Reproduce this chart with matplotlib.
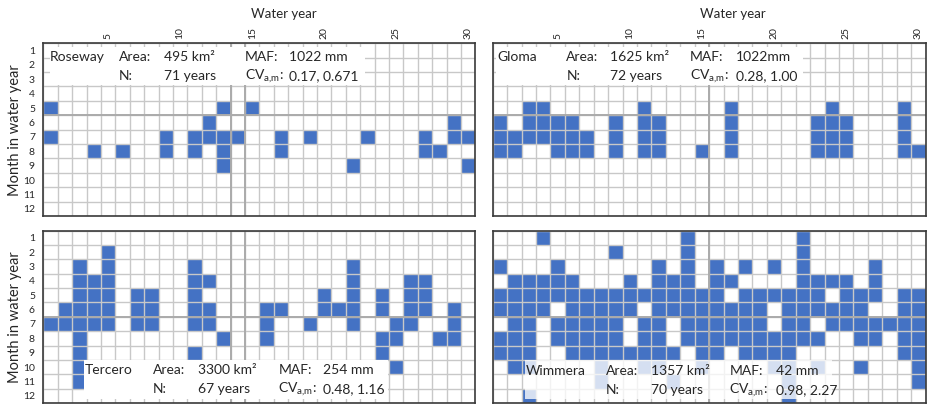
import numpy as np
import matplotlib
matplotlib.use("Agg")
import matplotlib.pyplot as plt
from matplotlib.colors import ListedColormap
from matplotlib.patches import Rectangle

plt.rcParams['font.family'] = ['Lato', 'DejaVu Sans']
plt.rcParams['mathtext.fontset'] = 'custom'
plt.rcParams['mathtext.rm'] = 'Lato'

# Months (row) in which each water year (column) is flagged
years = list(range(1, 31))
months = list(range(1, 13))

roseway = {
    5: [1, 13, 15],
    6: [12, 29],
    7: [1, 9, 11, 12, 13, 14, 17, 19, 23, 27, 29, 30],
    8: [4, 6, 9, 11, 13, 17, 27, 28],
    9: [13, 22, 30],
}

gloma = {
    5: [3, 4, 11, 17, 24, 29],
    6: [1, 3, 4, 5, 6, 9, 11, 12, 17, 23, 24, 25, 29],
    7: [1, 2, 3, 4, 5, 6, 7, 9, 11, 12, 17, 23, 24, 25, 29],
    8: [1, 2, 5, 6, 7, 9, 11, 12, 15, 17, 23, 24, 25, 29, 30],
}

tercero = {
    2: [5],
    3: [3, 5, 11, 22],
    4: [3, 4, 5, 11, 12, 22, 26, 27],
    5: [3, 4, 5, 7, 8, 11, 20, 22, 24, 26, 27],
    6: [2, 3, 4, 5, 7, 8, 11, 12, 16, 17, 20, 21, 22, 24, 26, 27, 29],
    7: [1, 2, 3, 4, 5, 7, 8, 11, 12, 16, 19, 22, 25, 26, 29],
    8: [3, 13, 16, 24, 25, 28, 29],
    9: [3, 11, 24],
    10: [3, 25],
    11: [3],
}

wimmera = {
    1: [4, 14, 22],
    2: [9, 14, 22],
    3: [1, 5, 12, 14, 16, 18, 20, 22, 27],
    4: [2, 3, 4, 5, 6, 10, 12, 13, 14, 16, 17, 22, 23, 24, 25, 27],
    5: [1, 2, 3, 4, 5, 6, 7, 8, 9, 10, 11, 12, 13, 14, 15, 16, 18, 19, 20,
        21, 22, 23, 25, 26, 27, 29, 30],
    6: [1, 2, 3, 4, 6, 7, 8, 9, 10, 12, 13, 14, 15, 16, 17, 18, 19, 21, 22,
        23, 24, 25, 26, 29, 30],
    7: [2, 3, 5, 6, 7, 8, 9, 11, 12, 14, 15, 16, 17, 18, 19, 21, 22, 24, 25,
        26, 27, 28, 29, 30],
    8: [1, 2, 3, 5, 6, 7, 8, 9, 11, 12, 14, 15, 16, 17, 18, 19, 20, 21, 22,
        23, 26, 27, 29, 30],
    9: [1, 2, 3, 6, 7, 8, 9, 10, 11, 12, 13, 15, 16, 18, 19, 20, 21, 29, 30],
    10: [2, 3, 8, 11, 12, 15, 20, 21, 23, 26, 30],
    11: [8, 13, 21, 30],
    12: [3, 21],
}

# Catchment descriptors
names = ["Roseway", "Gloma", "Tercero", "Wimmera"]
areas = ["495", "1625", "3300", "1357"]
mafs = ["1022 mm", "1022mm", "254 mm", "42 mm"]
record_years = ["71", "72", "67", "70"]
cvs = ["0.17, 0.671", "0.28, 1.00", "0.48, 1.16", "0.98, 2.27"]

# Reference (centroid) lines: vertical year positions and horizontal month position
centre_years = [[13.5, 14.5], [15.5], [13.5, 14.5], [15.5]]
centre_months = [5.5, 5.5, 6.5, 6.5]

BLUE = "#4472C4"
GRID = "#c8c8c8"
DARK_GRID = "#ababab"

W, H = 927, 404
fig = plt.figure(figsize=(W / 100, H / 100), dpi=100)


def px_axes(x0, y0, x1, y1):
    return fig.add_axes([x0 / W, 1 - y1 / H, (x1 - x0) / W, (y1 - y0) / H])


boxes = [
    (43.3, 43.3, 475.5, 216.0),
    (492.7, 43.3, 925.5, 216.0),
    (43.3, 230.5, 475.5, 403.0),
    (492.7, 230.5, 925.5, 403.0),
]

# Label anchor positions in data units (year, month) for each panel
label_x = [
    [0.97, 5.75, 8.88, 14.5, 17.55],
    [0.82, 5.61, 8.61, 14.18, 17.36],
    [3.39, 8.13, 11.26, 16.81, 19.94],
    [2.80, 8.33, 11.44, 16.90, 20.13],
]
label_y = [(1.45, 2.77), (1.45, 2.77), (10.2, 11.55), (10.25, 11.6)]
label_box = [
    (0.95, 0.75, 22.8, 3.4),
    (0.70, 0.75, 22.0, 3.4),
    (3.35, 9.5, 24.4, 12.2),
    (2.75, 9.5, 24.0, 12.2),
]
box_alpha = [1.0, 1.0, 1.0, 0.78]

data_sets = [roseway, gloma, tercero, wimmera]

for i, (events, box) in enumerate(zip(data_sets, boxes)):
    ax = px_axes(*box)
    grid = np.zeros((len(months), len(years)))
    for m, ys in events.items():
        for y in ys:
            grid[m - 1, y - 1] = 1
    masked = np.ma.masked_equal(grid, 0)
    xe = np.arange(0.5, len(years) + 1)
    ye = np.arange(0.5, len(months) + 1)
    ax.pcolormesh(xe, ye, masked, cmap=ListedColormap([BLUE]),
                  vmin=0, vmax=1, zorder=1)
    ax.set_xlim(0.5, 30.5)
    ax.set_ylim(12.5, 0.5)

    ax.vlines(xe, 0.5, 12.5, color=GRID, lw=1.0, zorder=2)
    ax.hlines(ye, 0.5, 30.5, color=GRID, lw=1.0, zorder=2)
    for cx in centre_years[i]:
        ax.axvline(cx, color=DARK_GRID, lw=1.4, zorder=2.5)
    ax.axhline(centre_months[i], color=DARK_GRID, lw=1.4, zorder=2.5)

    bx0, by0, bx1, by1 = label_box[i]
    ax.add_patch(Rectangle((bx0, by0), bx1 - bx0, by1 - by0,
                           facecolor="white", edgecolor="none",
                           alpha=box_alpha[i], zorder=3))

    lx = label_x[i]
    l1, l2 = label_y[i]
    kw = dict(fontsize=10, va="center", ha="left", zorder=4, color="#262626")
    ax.text(lx[0], l1, names[i], **kw)
    ax.text(lx[1], l1, "Area:", **kw)
    ax.text(lx[2], l1, areas[i] + " km²", **kw)
    ax.text(lx[3], l1, "MAF:", **kw)
    ax.text(lx[4], l1, mafs[i], **kw)
    ax.text(lx[1], l2, "N:", **kw)
    ax.text(lx[2], l2, record_years[i] + " years", **kw)
    ax.text(lx[3], l2, r"CV$_{\mathregular{a{,}m}}$:", **kw)
    ax.text(lx[4], l2, cvs[i], **kw)

    for s in ax.spines.values():
        s.set_color("#3a3a3a")
        s.set_linewidth(1.2)
        s.set_zorder(5)

    ax.tick_params(length=0, labelsize=7.5, colors="#262626")
    if i < 2:
        ax.xaxis.tick_top()
        ax.set_xticks(years[4::5])
        ax.set_xticklabels([str(v) for v in years[4::5]], rotation=90)
        ax.tick_params(axis="x", pad=3)
    else:
        ax.set_xticks([])
    if i % 2 == 0:
        ax.set_yticks(months)
        ax.set_yticklabels([str(m) for m in months])
        ax.tick_params(axis="y", pad=6)
        yc = (box[1] + box[3]) / 2
        fig.text(15 / W, 1 - yc / H, "Month in water year", rotation=90,
                 ha="center", va="center", fontsize=10.5, color="#262626")
    else:
        ax.set_yticks([])

fig.text(283.7 / W, 1 - 14 / H, "Water year", ha="center", va="center",
         fontsize=9.5, color="#262626")
fig.text(733.3 / W, 1 - 14 / H, "Water year", ha="center", va="center",
         fontsize=9.5, color="#262626")

fig.savefig("out.png", dpi=100)
